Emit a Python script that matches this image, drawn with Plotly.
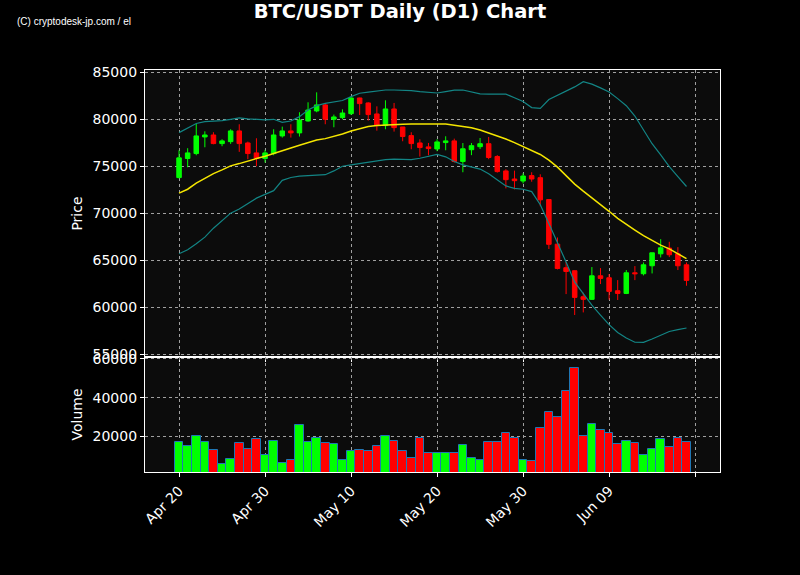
import pandas as pd
import plotly.graph_objects as go
from plotly.subplots import make_subplots

dates = pd.date_range("2024-04-20", periods=60, freq="D")

opens = [73790, 75820, 76350, 78120, 78330, 77410, 77620, 78760, 77480, 76420,
         75820, 76350, 78230, 78760, 78550, 79820, 80890, 81530, 80000, 80180,
         80600, 82270, 81740, 80570, 79330, 81100, 79180, 78260, 77480, 77060,
         76840, 77520, 77700, 75500, 76760, 77080, 77400, 76040, 74500, 73640,
         73420, 74000, 73780, 71450, 66700, 64190, 63870, 61100, 60820, 63330,
         63120, 61740, 61450, 63650, 63550, 64400, 65670, 66280, 65670, 64500]
highs = [76700, 76920, 79500, 78720, 78620, 77870, 78940, 79470, 77620, 77980,
         76740, 78940, 79220, 79470, 80750, 81810, 82870, 81700, 80500, 81060,
         82380, 82300, 81810, 81380, 82020, 81740, 79180, 78620, 77870, 77480,
         77870, 78190, 77940, 77470, 77470, 78010, 78120, 76180, 74680, 74530,
         74250, 74360, 74140, 71480, 67410, 64820, 63900, 61530, 64260, 64150,
         63510, 62870, 63940, 64360, 64750, 65780, 67230, 66950, 66380, 64750]
lows = [73700, 74890, 76170, 77020, 77340, 77130, 77380, 76530, 75750, 75000,
        75390, 76170, 78050, 78050, 78160, 79750, 80750, 79470, 79150, 80000,
        80460, 80460, 79860, 78790, 78940, 78690, 77660, 76810, 76030, 76170,
        76600, 76700, 75390, 74360, 76180, 76830, 75750, 74320, 72640, 72530,
        73170, 73350, 70740, 66180, 64010, 61380, 59150, 59430, 60750, 62450,
        60780, 60750, 61380, 62870, 63370, 63580, 65280, 65320, 63940, 62270]
closes = [75890, 76420, 78230, 78330, 77410, 77700, 78760, 77410, 76350, 75820,
          76420, 78330, 78760, 78550, 79930, 80990, 81530, 80000, 80250, 80670,
          82270, 81670, 80500, 79330, 81100, 79110, 78160, 77410, 76990, 76880,
          77590, 77700, 75500, 76860, 77190, 77400, 75930, 74430, 73570, 73460,
          73960, 73640, 71420, 66680, 64110, 63790, 61030, 60820, 63330, 63050,
          61670, 61450, 63650, 63550, 64500, 65780, 66310, 65570, 64400, 62840]
volumes = [16930, 14880, 20010, 16930, 12830, 5640, 8210, 16420, 13510, 18470,
           10260, 17440, 6160, 7700, 26160, 16930, 18980, 16420, 15900, 7700,
           12310, 12830, 12310, 14880, 20010, 17440, 12310, 8720, 18980, 11290,
           11290, 11290, 11290, 15390, 8720, 7700, 16930, 16930, 21550, 18980,
           7700, 7180, 24110, 32830, 30270, 43610, 55400, 20010, 26680, 23090,
           21550, 15900, 17440, 16420, 10260, 13340, 18470, 14360, 18980, 16930]
sma = [72130, 72550, 73190, 73720, 74220, 74610, 75040, 75280, 75570, 75820,
       76060, 76380, 76670, 76950, 77230, 77550, 77800, 77940, 78160, 78440,
       78760, 79010, 79220, 79330, 79400, 79470, 79470, 79500, 79500, 79530,
       79570, 79500, 79370, 79250, 79090, 78850, 78550, 78250, 77900, 77520,
       77120, 76680, 76250, 75650, 74900, 74000, 73100, 72350, 71650, 71000,
       70200, 69450, 68800, 68200, 67600, 67100, 66600, 66200, 65700, 65150]
upper = [78580, 79100, 79550, 79750, 79780, 79850, 80000, 80150, 80050, 79950,
         79930, 80000, 79680, 79820, 80280, 80990, 81450, 81700, 81880, 82000,
         82410, 82770, 82900, 83050, 83120, 83120, 83100, 83050, 82950, 82870,
         82800, 82950, 83100, 83120, 82950, 82700, 82680, 82700, 82680, 82300,
         81900, 81250, 81170, 82100, 82550, 83000, 83450, 84000, 83750, 83350,
         82900, 82200, 81450, 80350, 78850, 77400, 76200, 74950, 73900, 72840]
lower = [65670, 66100, 66750, 67450, 68400, 69200, 70000, 70450, 71000, 71600,
         72000, 72400, 73500, 73800, 73950, 74000, 74050, 74100, 74500, 75000,
         75150, 75300, 75400, 75550, 75700, 75750, 75700, 75700, 75850, 76050,
         76250, 76000, 75500, 75150, 74950, 74700, 74200, 73500, 72900, 72650,
         72550, 72300, 70900, 68900, 66900, 64800, 62650, 61400, 60200, 59150,
         58130, 57300, 56700, 56250, 56240, 56600, 57000, 57400, 57600, 57770]

tick_dates = ["2024-04-20", "2024-04-30", "2024-05-10", "2024-05-20",
              "2024-05-30", "2024-06-09", "2024-06-19"]
tick_labels = ["Apr 20", "Apr 30", "May 10", "May 20", "May 30", "Jun 09", ""]
price_ticks = [55000, 60000, 65000, 70000, 75000, 80000, 85000]
volume_ticks = [20000, 40000, 60000]

GREEN = "#00ff00"
RED = "#ff0000"
vol_colors = [GREEN if c >= o else RED for o, c in zip(opens, closes)]

fig = make_subplots(rows=2, cols=1, shared_xaxes=True, vertical_spacing=0,
                    row_heights=[287, 115])

fig.add_trace(go.Scatter(x=dates, y=upper, mode="lines",
                         line=dict(color="#138585", width=1.2)), row=1, col=1)
fig.add_trace(go.Scatter(x=dates, y=lower, mode="lines",
                         line=dict(color="#138585", width=1.2)), row=1, col=1)
fig.add_trace(go.Scatter(x=dates, y=sma, mode="lines",
                         line=dict(color="#f5e600", width=1.5)), row=1, col=1)
fig.add_trace(go.Candlestick(
    x=dates, open=opens, high=highs, low=lows, close=closes,
    increasing=dict(line=dict(color=GREEN, width=1), fillcolor=GREEN),
    decreasing=dict(line=dict(color=RED, width=1), fillcolor=RED),
    whiskerwidth=0), row=1, col=1)
fig.add_trace(go.Bar(x=dates, y=volumes, marker=dict(color=vol_colors,
                     line=dict(color="#1f77b4", width=1)),
                     width=86400000), row=2, col=1)

font = dict(family="DejaVu Sans", color="white", size=14)
axis_common = dict(showline=True, linecolor="white", linewidth=1.2, mirror=True,
                   ticks="outside", tickcolor="white", ticklen=4,
                   showgrid=True, gridcolor="#a0a0a0", griddash="dot", gridwidth=1,
                   zeroline=False, tickfont=font)

xr = ["2024-04-16 01:00", "2024-06-21 21:30"]
fig.update_xaxes(**axis_common, range=xr, tickvals=tick_dates, ticktext=tick_labels,
                 rangeslider_visible=False)
fig.update_xaxes(showticklabels=False, row=1, col=1)
fig.update_xaxes(tickangle=-45, row=2, col=1)
fig.update_yaxes(**axis_common)
fig.update_yaxes(range=[54680, 85250], tickvals=price_ticks, tickformat="d",
                 title=dict(text="Price", font=font, standoff=6), row=1, col=1)
fig.update_yaxes(range=[1690, 60950], tickvals=volume_ticks, tickformat="d",
                 title=dict(text="Volume", font=font, standoff=6), row=2, col=1)

fig.update_layout(
    width=800, height=575,
    margin=dict(l=145, r=80, t=70, b=103),
    paper_bgcolor="black", plot_bgcolor="#0c0c0c",
    showlegend=False, bargap=0, boxgap=0.25,
    font=font,
    title=dict(text="<b>BTC/USDT Daily (D1) Chart</b>", x=0.5, xanchor="center",
               y=1 - 11 / 575, yanchor="middle", yref="container",
               font=dict(family="DejaVu Sans", size=19.5, color="white")),
)
fig.add_annotation(text="(C) cryptodesk-jp.com / el", xref="paper", yref="paper",
                   x=(15 - 145) / 575, y=(472 - 21) / 402, xanchor="left",
                   yanchor="middle", showarrow=False,
                   font=dict(family="Liberation Sans", size=10, color="white"))

fig.write_html("out.html", config={"displayModeBar": False},
               post_script="document.body.style.margin='0';"
                           "document.body.style.background='black';")
